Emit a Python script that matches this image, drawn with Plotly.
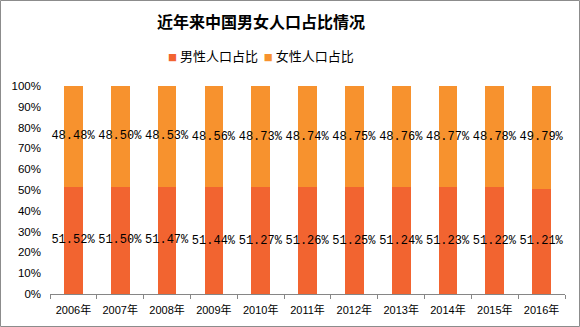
import plotly.graph_objects as go

years = ["2006年", "2007年", "2008年", "2009年", "2010年", "2011年",
         "2012年", "2013年", "2014年", "2015年", "2016年"]
male_share = [51.52, 51.50, 51.47, 51.44, 51.27, 51.26, 51.25, 51.24, 51.23, 51.22, 51.21]
female_share = [48.48, 48.50, 48.53, 48.56, 48.73, 48.74, 48.75, 48.76, 48.77, 48.78, 49.79]
y_ticks = [0, 10, 20, 30, 40, 50, 60, 70, 80, 90, 100]
series_names = ["男性人口占比", "女性人口占比"]
series_colors = ["#F26430", "#F7922E"]

W, H = 580, 327
ML, MR, MT, MB = 50, 15, 86, 33
PW, PH = W - ML - MR, H - MT - MB

LABEL_FONT = dict(family="Liberation Mono, Noto Sans CJK SC", size=12, color="#000000")
XTICK_FONT = dict(family="Liberation Sans, Noto Sans CJK SC", size=11, color="#000000")
YTICK_FONT = dict(family="Liberation Sans", size=11.5, color="#000000")
CJK_FONT = "Noto Sans CJK SC"


def fmt(vals):
    return [f"{v:.2f}%" for v in vals]


fig = go.Figure()
for name, vals, color in zip(series_names, [male_share, female_share], series_colors):
    fig.add_trace(go.Bar(
        x=years, y=vals, name=name,
        marker=dict(color=color, line=dict(width=0)),
        text=fmt(vals), textposition="inside", insidetextanchor="middle",
        textangle=0, constraintext="none", textfont=LABEL_FONT,
        cliponaxis=False, hoverinfo="x+y", showlegend=False,
    ))

# compact legend row under the title
legend_text = "  ".join(
    f"<span style='color:{c};font-size:9px'>■</span> {n}"
    for n, c in zip(series_names, series_colors)
)
fig.add_annotation(
    text=legend_text, xref="paper", yref="paper",
    x=(261 - ML) / PW, xanchor="center",
    y=1 + (MT - 55) / PH, yanchor="middle",
    showarrow=False, font=dict(family=CJK_FONT, size=13, color="#000000"),
)

fig.update_layout(
    width=W, height=H,
    margin=dict(l=ML, r=MR, t=MT, b=MB, pad=0),
    barmode="stack", barnorm="percent", bargap=0.6,
    paper_bgcolor="#FFFFFF", plot_bgcolor="#FFFFFF",
    showlegend=False,
    title=dict(
        text="<b>近年来中国男女人口占比情况</b>",
        x=261 / W, xanchor="center", y=1 - 22 / H, yanchor="middle",
        font=dict(family=CJK_FONT, size=16, color="#000000"),
    ),
)

fig.update_xaxes(
    showline=True, linecolor="#868686", linewidth=1,
    ticks="outside", tickson="boundaries", ticklen=4, tickcolor="#868686",
    tickfont=XTICK_FONT, showgrid=False, zeroline=False, ticklabelstandoff=6,
)
fig.update_yaxes(
    range=[0, 100], tickvals=y_ticks, ticktext=[f"{v}%" for v in y_ticks],
    showline=False, showgrid=False, zeroline=False, ticks="",
    tickfont=YTICK_FONT, ticklabelstandoff=8,
)

# outer chart frame
fig.add_shape(
    type="rect", xref="paper", yref="paper",
    x0=-(ML - 0.5) / PW, x1=(W - 0.5 - ML) / PW,
    y0=-(MB - 0.5) / PH, y1=1 + (MT - 0.5) / PH,
    line=dict(color="#8C8C8C", width=1), fillcolor="rgba(0,0,0,0)", layer="below",
)

fig.write_html("out.html")
